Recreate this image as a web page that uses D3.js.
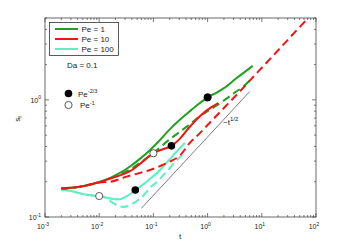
<!DOCTYPE html>
<html>
<head>
<meta charset="utf-8">
<script src="https://cdn.jsdelivr.net/npm/d3@7"></script>
<style>
  body { margin: 0; background: #fff; }
  svg text { font-family: "Liberation Sans", Arial, sans-serif; fill: #222; }
</style>
</head>
<body>
<svg id="chart" width="349" height="245"></svg>
<script>
const LEFT = 45, RIGHT = 316, TOP = 18, BOTTOM = 217;

// Pe = 1
const tPe1Solid = [0.002, 0.004, 0.007, 0.01, 0.016, 0.025, 0.037, 0.057, 0.087, 0.13, 0.2, 0.3, 0.47, 0.7, 1.0, 1.5, 2.0, 3.4, 5, 6.8];
const sPe1Solid = [0.175, 0.18, 0.19, 0.199, 0.216, 0.24, 0.27, 0.315, 0.374, 0.45, 0.56, 0.67, 0.8, 0.93, 1.05, 1.16, 1.26, 1.53, 1.75, 1.95];
const tPe1Dash = [0.002, 0.004, 0.007, 0.01, 0.016, 0.025, 0.037, 0.057, 0.087, 0.13, 0.2, 0.3, 0.45, 0.7, 1.0, 1.5, 2.2, 3.2, 4.5, 6.8];
const sPe1Dash = [0.175, 0.18, 0.19, 0.198, 0.213, 0.232, 0.255, 0.29, 0.335, 0.39, 0.46, 0.53, 0.61, 0.72, 0.8, 0.9, 1.02, 1.16, 1.29, 1.56];
// Pe = 10
const tPe10Solid = [0.002, 0.004, 0.007, 0.01, 0.016, 0.025, 0.037, 0.057, 0.08, 0.1, 0.14, 0.215, 0.3, 0.47, 0.83, 1.2, 1.57];
const sPe10Solid = [0.175, 0.18, 0.19, 0.198, 0.213, 0.228, 0.246, 0.285, 0.325, 0.35, 0.375, 0.405, 0.46, 0.59, 0.77, 0.87, 0.94];
const tPe10Dash = [0.002, 0.004, 0.007, 0.01, 0.016, 0.032, 0.06, 0.087, 0.14, 0.2, 0.31, 0.47, 0.72, 1.0, 1.6, 2.5, 4, 6, 10, 16, 25, 40, 72];
const sPe10Dash = [0.175, 0.18, 0.19, 0.197, 0.2, 0.221, 0.24, 0.252, 0.275, 0.297, 0.335, 0.43, 0.52, 0.61, 0.765, 0.95, 1.19, 1.46, 1.88, 2.37, 2.96, 3.75, 5.0];
// Pe = 100
const tPe100Solid = [0.002, 0.003, 0.0047, 0.007, 0.01, 0.014, 0.019, 0.024, 0.03, 0.038, 0.047, 0.065, 0.09, 0.115, 0.152, 0.2, 0.25, 0.33, 0.38];
const sPe100Solid = [0.172, 0.167, 0.158, 0.153, 0.151, 0.146, 0.142, 0.142, 0.148, 0.158, 0.17, 0.19, 0.215, 0.236, 0.27, 0.31, 0.35, 0.4, 0.43];
const tPe100Dash = [0.002, 0.003, 0.0047, 0.007, 0.01, 0.013, 0.017, 0.022, 0.028, 0.036, 0.047, 0.065, 0.087, 0.115, 0.152, 0.2, 0.25, 0.31, 0.37];
const sPe100Dash = [0.172, 0.167, 0.158, 0.153, 0.151, 0.146, 0.134, 0.125, 0.122, 0.125, 0.135, 0.152, 0.178, 0.198, 0.227, 0.26, 0.295, 0.325, 0.355];

// markers at t = Pe^-2/3 (filled) and t = Pe^-1 (open)
const tFilled = [1, 0.215, 0.0464];
const sFilled = [1.05, 0.405, 0.17];
const tOpen = [1, 0.1, 0.01];
const sOpen = [1.05, 0.35, 0.151];

// reference slope t^1/2
const tSlope = [0.06, 6];
const sSlope = [0.1186, 1.18];

const legendLabels = ['Pe = 1', 'Pe = 10', 'Pe = 100'];
const colors = ['#22a022', '#f01414', '#5cf0bc'];
const xTickVals = [1e-3, 1e-2, 1e-1, 1e0, 1e1, 1e2];
const xTickExp = ['-3', '-2', '-1', '0', '1', '2'];
const yTickVals = [0.1, 1];
const yTickExp = ['-1', '0'];

var svg = d3.select('#chart');
var x = d3.scaleLog().domain([1e-3, 1e2]).range([LEFT, RIGHT]);
var y = d3.scaleLog().domain([0.1, 5]).range([BOTTOM, TOP]);

svg.append('clipPath').attr('id', 'clip')
  .append('rect').attr('x', LEFT).attr('y', TOP)
  .attr('width', RIGHT - LEFT).attr('height', BOTTOM - TOP);

// minor + major ticks, drawn inside on all four sides
var xMinor = [];
for (var e = -3; e < 2; e++) for (var k = 2; k < 10; k++) xMinor.push(k * Math.pow(10, e));
var yMinor = [];
for (var e2 = -1; e2 < 1; e2++) for (var k2 = 2; k2 < 10; k2++) if (k2 * Math.pow(10, e2) <= 5) yMinor.push(k2 * Math.pow(10, e2));

var ticks = svg.append('g').attr('stroke', '#444').attr('stroke-width', 0.7);
function xTick(v, len) {
  ticks.append('line').attr('x1', x(v)).attr('x2', x(v)).attr('y1', BOTTOM).attr('y2', BOTTOM - len);
  ticks.append('line').attr('x1', x(v)).attr('x2', x(v)).attr('y1', TOP).attr('y2', TOP + len);
}
function yTick(v, len) {
  ticks.append('line').attr('x1', LEFT).attr('x2', LEFT + len).attr('y1', y(v)).attr('y2', y(v));
  ticks.append('line').attr('x1', RIGHT).attr('x2', RIGHT - len).attr('y1', y(v)).attr('y2', y(v));
}
xMinor.forEach(function (v) { xTick(v, 2); });
xTickVals.forEach(function (v) { xTick(v, 4); });
yMinor.forEach(function (v) { yTick(v, 2); });
yTickVals.forEach(function (v) { yTick(v, 4); });

// tick labels
xTickVals.forEach(function (v, i) {
  var t = svg.append('text').attr('x', x(v) - 2).attr('y', BOTTOM + 12)
    .attr('text-anchor', 'middle').attr('font-size', 7);
  t.append('tspan').text('10');
  t.append('tspan').attr('dy', -3.5).attr('font-size', 5).text(xTickExp[i]);
});
yTickVals.forEach(function (v, i) {
  var t = svg.append('text').attr('x', LEFT - 4).attr('y', y(v) + 3)
    .attr('text-anchor', 'end').attr('font-size', 7);
  t.append('tspan').text('10');
  t.append('tspan').attr('dy', -3.5).attr('font-size', 5).text(yTickExp[i]);
});

svg.append('text').attr('x', 180).attr('y', 239).attr('text-anchor', 'middle')
  .attr('font-size', 8).text('t');
var yl = svg.append('text').attr('transform', 'translate(20,119) rotate(-90)')
  .attr('text-anchor', 'middle').attr('font-size', 8);
yl.append('tspan').text('s');
yl.append('tspan').attr('dy', 2).attr('font-size', 5.5).text('f');

// curves
var plot = svg.append('g').attr('clip-path', 'url(#clip)');
var line = d3.line()
  .x(function (d) { return x(d[0]); })
  .y(function (d) { return y(d[1]); })
  .curve(d3.curveMonotoneX);

function curve(ts, ss, color, dashed) {
  plot.append('path')
    .datum(d3.zip(ts, ss))
    .attr('d', line)
    .attr('fill', 'none')
    .attr('stroke', color)
    .attr('stroke-width', 2)
    .attr('stroke-dasharray', dashed ? '8,4.5' : null);
}

curve(tPe100Dash, sPe100Dash, colors[2], true);
curve(tPe100Solid, sPe100Solid, colors[2], false);
curve(tPe1Dash, sPe1Dash, colors[0], true);
curve(tPe10Dash, sPe10Dash, colors[1], true);
curve(tPe1Solid, sPe1Solid, colors[0], false);
curve(tPe10Solid, sPe10Solid, colors[1], false);

plot.append('path')
  .datum(d3.zip(tSlope, sSlope))
  .attr('d', d3.line().x(function (d) { return x(d[0]); }).y(function (d) { return y(d[1]); }))
  .attr('stroke', '#444').attr('stroke-width', 0.7).attr('fill', 'none');

var slopeLabel = svg.append('text').attr('x', 223).attr('y', 125).attr('font-size', 8);
slopeLabel.append('tspan').text('~t');
slopeLabel.append('tspan').attr('dy', -4).attr('font-size', 6).text('1/2');

plot.selectAll('circle.open')
  .data(d3.zip(tOpen, sOpen)).enter().append('circle')
  .attr('cx', function (d) { return x(d[0]); })
  .attr('cy', function (d) { return y(d[1]); })
  .attr('r', 3.6).attr('fill', '#fff').attr('stroke', '#333').attr('stroke-width', 0.8);
plot.selectAll('circle.filled')
  .data(d3.zip(tFilled, sFilled)).enter().append('circle')
  .attr('cx', function (d) { return x(d[0]); })
  .attr('cy', function (d) { return y(d[1]); })
  .attr('r', 3.8).attr('fill', '#000');

// axes box
svg.append('rect').attr('x', LEFT).attr('y', TOP)
  .attr('width', RIGHT - LEFT).attr('height', BOTTOM - TOP)
  .attr('fill', 'none').attr('stroke', '#444').attr('stroke-width', 0.8);

// legend
var lg = svg.append('g');
lg.append('rect').attr('x', 49.5).attr('y', 22.5).attr('width', 69).attr('height', 33)
  .attr('fill', '#fff').attr('stroke', '#333').attr('stroke-width', 0.8);
legendLabels.forEach(function (lab, i) {
  var ly = 29 + i * 10;
  lg.append('line').attr('x1', 55).attr('x2', 78).attr('y1', ly).attr('y2', ly)
    .attr('stroke', colors[i]).attr('stroke-width', 2);
  lg.append('text').attr('x', 81.5).attr('y', ly + 3).attr('font-size', 8).text(lab);
});

svg.append('text').attr('x', 67).attr('y', 68).attr('font-size', 8).text('Da = 0.1');

svg.append('circle').attr('cx', 68.5).attr('cy', 93.5).attr('r', 3.8).attr('fill', '#000');
var m1 = svg.append('text').attr('x', 78).attr('y', 96.5).attr('font-size', 8);
m1.append('tspan').text('Pe');
m1.append('tspan').attr('dy', -3.5).attr('font-size', 5.5).text('-2/3');
svg.append('circle').attr('cx', 68.5).attr('cy', 105).attr('r', 3.6)
  .attr('fill', '#fff').attr('stroke', '#333').attr('stroke-width', 0.8);
var m2 = svg.append('text').attr('x', 80).attr('y', 108).attr('font-size', 8);
m2.append('tspan').text('Pe');
m2.append('tspan').attr('dy', -3.5).attr('font-size', 5.5).text('-1');
</script>
</body>
</html>
